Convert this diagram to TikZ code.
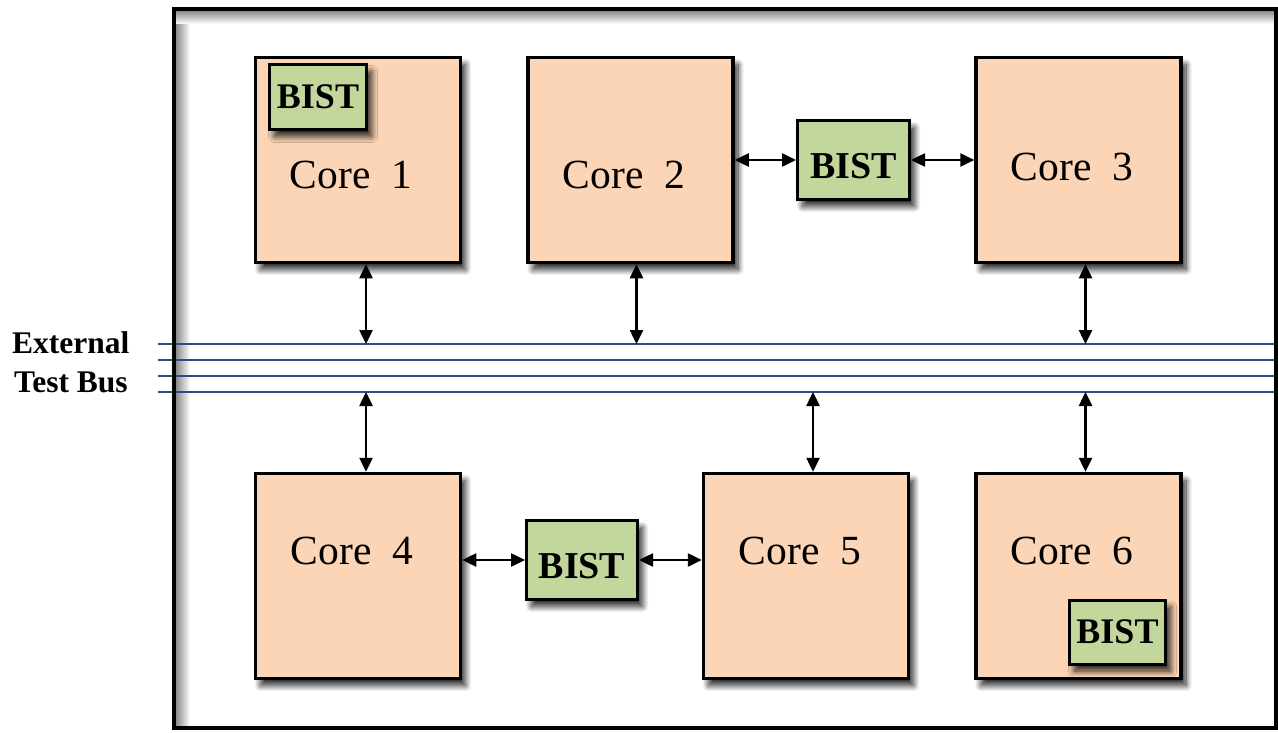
\documentclass[tikz,border=0pt]{standalone}
\usepackage{fontspec}
\setmainfont{Liberation Serif}
\usetikzlibrary{arrows.meta,shadows.blur,calc}

\definecolor{corefill}{HTML}{FBD5B5}
\definecolor{bistfill}{HTML}{C3D69B}
\definecolor{busblue}{HTML}{2A4F8A}

\tikzset{
  softshadow/.style={blur shadow={shadow xshift=5pt, shadow yshift=-7pt,
      shadow blur radius=6pt, shadow blur steps=12, shadow opacity=85}},
  corebox/.style={draw=black, line width=3.5pt, fill=corefill, inner sep=0pt,
      minimum width=205pt, minimum height=205pt, softshadow},
  bistfont/.style={font=\fontsize{38}{42}\selectfont\bfseries, inner sep=0pt},
  bistbox/.style={draw=black, line width=3pt, fill=bistfill, inner sep=0pt,
      bistfont, softshadow},
  corelabel/.style={font=\fontsize{41.5}{45}\selectfont, inner sep=0pt},
  buslabel/.style={font=\fontsize{31.5}{34}\selectfont\bfseries, inner sep=0pt, anchor=west},
  busline/.style={draw=busblue, line width=1.8pt},
  link/.style={line width=2.5pt,
      {Triangle[length=14pt,width=13pt]}-{Triangle[length=14pt,width=13pt]}},
}

\begin{document}
\begin{tikzpicture}[x=1pt,y=-1pt]
  \useasboundingbox (0,0) rectangle (1278,733);

  % inner shading along the top and left of the chip outline
  \shade[left color=black!45, right color=white] (176,11) rectangle (190,726);
  \shade[top color=black!45, bottom color=white] (176,11) rectangle (1274,24);

  % external test bus
  \coordinate (busA) at (158,344);
  \coordinate (busB) at (158,360);
  \coordinate (busC) at (158,376);
  \coordinate (busD) at (158,392);
  \foreach \b in {busA,busB,busC,busD}
    \draw[busline] (\b) -- ++(1120,0);

  % chip outline
  \draw[line width=4pt] (174,9) rectangle (1276,728);

  % cores
  \node[corebox] (c1) at (358,160) {};
  \node[corebox] (c2) at (630.5,160) {};
  \node[corebox] (c3) at (1078.5,160) {};
  \node[corebox] (c4) at (358,576) {};
  \node[corebox] (c5) at (806,576) {};
  \node[corebox] (c6) at (1078.5,576) {};

  \node[corelabel] (t1) at (351,175) {Core~~1};
  \node[corelabel] (t2) at (624,175) {Core~~2};
  \node[corelabel] (t3) at (1072,167) {Core~~3};
  \node[corelabel] (t4) at (352,551) {Core~~4};
  \node[corelabel] (t5) at (800,551) {Core~~5};
  \node[corelabel] (t6) at (1072,551) {Core~~6};

  % BIST blocks
  \node[bistbox, font=\fontsize{36}{40}\selectfont\bfseries,
        minimum width=97pt, minimum height=65pt] (b1) at (318,97) {BIST};
  \node[bistbox, minimum width=112pt, minimum height=79pt,
        label={[bistfont, yshift=-6pt]center:BIST}] (b23) at (853.5,160) {};
  \node[bistbox, minimum width=111pt, minimum height=79pt,
        label={[bistfont, yshift=-6pt]center:BIST}] (b45) at (582,560) {};
  \node[bistbox, font=\fontsize{36}{40}\selectfont\bfseries,
        minimum width=96pt, minimum height=64pt] (b6) at (1117.5,632) {BIST};

  % links between cores and shared BIST blocks
  \draw[link] (c2.east |- b23) -- (b23.west);
  \draw[link] (b23.east) -- (c3.west |- b23);
  \draw[link] (c4.east |- b45) -- (b45.west);
  \draw[link] (b45.east) -- (c5.west |- b45);

  % links between cores and the test bus
  \draw[link] ([xshift=8pt]c1.south) -- ([xshift=8pt]c1.south |- busA);
  \draw[link] ([xshift=6pt]c2.south) -- ([xshift=6pt]c2.south |- busA);
  \draw[link] ([xshift=7pt]c3.south) -- ([xshift=7pt]c3.south |- busA);
  \draw[link] ([xshift=8pt]c4.north |- busD) -- ([xshift=8pt]c4.north);
  \draw[link] ([xshift=7pt]c5.north |- busD) -- ([xshift=7pt]c5.north);
  \draw[link] ([xshift=7pt]c6.north |- busD) -- ([xshift=7pt]c6.north);

  % bus label
  \node[buslabel] (l1) at (12,343) {External};
  \node[buslabel] (l2) at (14,382) {Test Bus};
\end{tikzpicture}
\end{document}
